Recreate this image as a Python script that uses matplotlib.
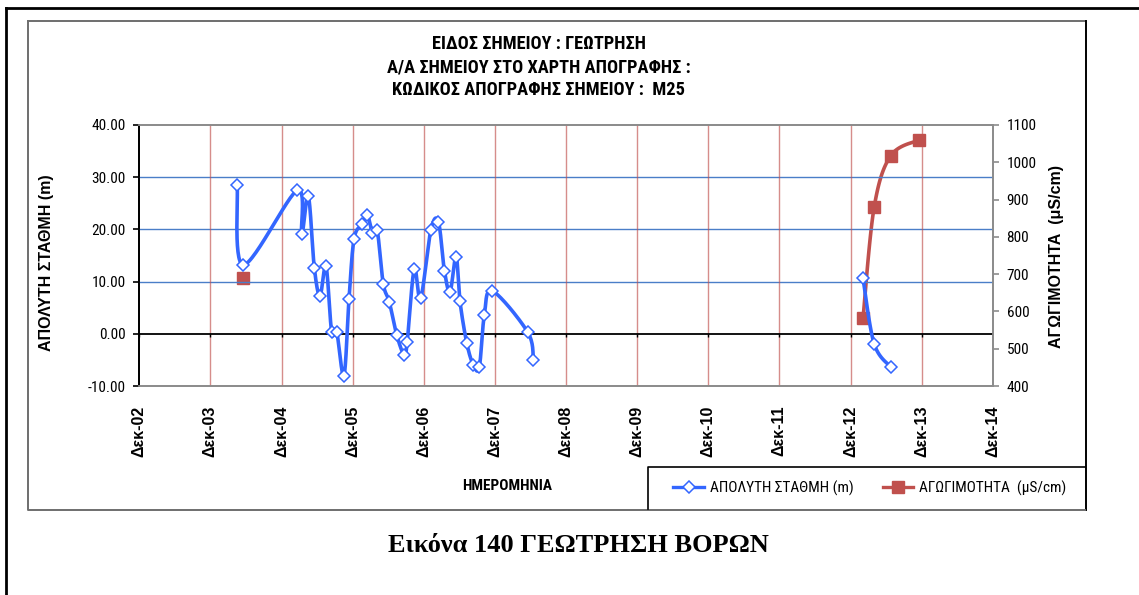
import matplotlib
matplotlib.use("Agg")
import matplotlib.pyplot as plt
import matplotlib.dates as mdates
from matplotlib import font_manager
from matplotlib.lines import Line2D
import numpy as np
import pandas as pd

# ---------------- data ----------------
LEVEL_DATES = [
    "2004-04-17", "2004-05-18", "2005-02-19", "2005-03-14", "2005-04-17",
    "2005-05-18", "2005-06-16", "2005-07-17", "2005-08-15", "2005-09-10",
    "2005-10-17", "2005-11-12", "2005-12-08", "2006-01-19", "2006-02-14",
    "2006-03-12", "2006-04-06", "2006-05-07", "2006-06-07", "2006-07-15",
    "2006-08-23", "2006-09-07", "2006-10-13", "2006-11-15", "2007-01-06",
    "2007-02-14", "2007-03-17", "2007-04-15", "2007-05-16", "2007-06-05",
    "2007-07-10", "2007-08-12", "2007-09-12", "2007-10-08", "2007-11-18",
    "2008-05-18", "2008-06-16",
    "2013-02-03", "2013-04-01", "2013-06-26",
]
LEVEL_VALUES = [
    28.6, 13.2, 27.5, 19.1, 26.4,
    12.6, 7.3, 12.9, 0.3, 0.3,
    -8.0, 6.6, 18.2, 21.0, 22.8,
    19.4, 19.8, 9.6, 6.1, -0.2,
    -4.1, -1.5, 12.4, 6.8, 19.8,
    21.5, 12.1, 8.1, 14.8, 6.2,
    -1.8, -5.9, -6.4, 3.6, 8.2,
    0.3, -5.1,
    10.6, -1.9, -6.4,
]
COND_DATES = ["2004-05-18", "2013-02-03", "2013-04-01", "2013-06-26", "2013-11-20"]
COND_VALUES = [689, 582, 879, 1018, 1060]

TICK_DATES = ["2002-12-01", "2003-12-01", "2004-12-01", "2005-12-01", "2006-12-01",
              "2007-12-01", "2008-12-01", "2009-12-01", "2010-12-01", "2011-12-01",
              "2012-12-01", "2013-12-01", "2014-12-01"]
TICK_LABELS = ["Δεκ-02", "Δεκ-03", "Δεκ-04", "Δεκ-05", "Δεκ-06", "Δεκ-07", "Δεκ-08",
               "Δεκ-09", "Δεκ-10", "Δεκ-11", "Δεκ-12", "Δεκ-13", "Δεκ-14"]
LEFT_TICKS = [-10, 0, 10, 20, 30, 40]
RIGHT_TICKS = [400, 500, 600, 700, 800, 900, 1000, 1100]

TITLE_LINES = ["ΕΙΔΟΣ ΣΗΜΕΙΟΥ : ΓΕΩΤΡΗΣΗ",
               "Α/Α ΣΗΜΕΙΟΥ ΣΤΟ ΧΑΡΤΗ ΑΠΟΓΡΑΦΗΣ :",
               "ΚΩΔΙΚΟΣ ΑΠΟΓΡΑΦΗΣ ΣΗΜΕΙΟΥ :  Μ25"]
LEVEL_NAME = "ΑΠΟΛΥΤΗ ΣΤΑΘΜΗ (m)"
COND_NAME = "ΑΓΩΓΙΜΟΤΗΤΑ  (μS/cm)"
XLABEL = "ΗΜΕΡΟΜΗΝΙΑ"
CAPTION = "Εικόνα 140 ΓΕΩΤΡΗΣΗ ΒΟΡΩΝ"

# ---------------- fonts ----------------
_entries = font_manager.fontManager.ttflist
_names = {f.name for f in _entries}
NARROW_NAME, NARROW_STRETCH, HAVE_NARROW = "Liberation Sans", "normal", False
for nm in ["Liberation Sans Narrow", "Arial Narrow", "Roboto Condensed", "Open Sans Condensed"]:
    if nm in _names:
        NARROW_NAME, NARROW_STRETCH, HAVE_NARROW = nm, "normal", True
        break
else:
    for nm in ["Roboto", "DejaVu Sans", "Noto Sans", "Open Sans"]:
        if any(f.name == nm and str(f.stretch) in ("condensed", "semi-condensed", "extra-condensed")
               for f in _entries):
            NARROW_NAME, NARROW_STRETCH, HAVE_NARROW = nm, "condensed", True
            break

NARROW = [NARROW_NAME, "Liberation Sans", "DejaVu Sans"]
SANS = ["Liberation Sans", "DejaVu Sans"]
SERIF = ["Liberation Serif", "DejaVu Serif"]
NK = dict(fontfamily=NARROW, fontstretch=NARROW_STRETCH)
SZ = 1.0 if HAVE_NARROW else 0.9

BLUE = "#3366FF"
RED = "#C0504D"

W, H = 1139, 595
fig = plt.figure(figsize=(W / 100, H / 100), dpi=100)


def fx(px):
    return px / W


def fy(py):
    return 1 - py / H


# outer page frame (top + left)
fig.add_artist(Line2D([fx(6), fx(W + 5)], [fy(7.5), fy(7.5)], color="black", lw=2.0))
fig.add_artist(Line2D([fx(6), fx(6)], [fy(7.5), fy(H + 5)], color="black", lw=2.0))
# chart area border
fig.add_artist(Line2D([fx(28), fx(1085)], [fy(21), fy(21)], color="#6E6E6E", lw=1.4))
fig.add_artist(Line2D([fx(1085.5), fx(1085.5)], [fy(21), fy(510)], color="black", lw=1.4))
fig.add_artist(Line2D([fx(28), fx(28), fx(1085)], [fy(21), fy(510), fy(510)], color="#6E6E6E", lw=1.4))

# axes
x0, x1 = 139.3, 992.7
y0, y1 = 125, 386
ax = fig.add_axes([fx(x0), fy(y1), fx(x1) - fx(x0), fy(y0) - fy(y1)])
ax2 = ax.twinx()

tick_nums = mdates.date2num(pd.to_datetime(TICK_DATES))
ax.set_xlim(tick_nums[0], tick_nums[-1])
ax.set_ylim(LEFT_TICKS[0], LEFT_TICKS[-1])
ax2.set_ylim(RIGHT_TICKS[0], RIGHT_TICKS[-1])

# grid
for v in LEFT_TICKS[2:-1]:
    ax.axhline(v, color="#4A7EC8", lw=1.0, zorder=1)
for t in tick_nums[1:-1]:
    ax.axvline(t, color=RED, lw=1.0, alpha=0.65, zorder=1)
ax.axhline(0, color="black", lw=1.3, zorder=2)
ax.vlines(tick_nums, -0.7, 0, color="black", lw=1.0, zorder=2)


def smooth_segments(xs, ys, max_gap=700):
    """Split at large gaps and build Catmull-Rom (Excel-style) smoothed curves."""
    xs = np.asarray(xs, float)
    ys = np.asarray(ys, float)
    breaks = np.where(np.diff(xs) > max_gap)[0] + 1
    out = []
    for sx, sy in zip(np.split(xs, breaks), np.split(ys, breaks)):
        if len(sx) < 2:
            continue
        P = np.column_stack([sx, sy])
        Pp = np.vstack([P[0], P, P[-1]])
        pts = []
        t = np.linspace(0, 1, 30)[:, None]
        for i in range(len(P) - 1):
            p0, p1, p2, p3 = Pp[i], Pp[i + 1], Pp[i + 2], Pp[i + 3]
            c1 = p1 + (p2 - p0) / 6.0
            c2 = p2 - (p3 - p1) / 6.0
            b = ((1 - t) ** 3) * p1 + 3 * ((1 - t) ** 2) * t * c1 + 3 * (1 - t) * t ** 2 * c2 + t ** 3 * p2
            pts.append(b)
        pts = np.vstack(pts)
        out.append((pts[:, 0], pts[:, 1]))
    return out


lx = mdates.date2num(pd.to_datetime(LEVEL_DATES))
cx = mdates.date2num(pd.to_datetime(COND_DATES))

for sx, sy in smooth_segments(cx, COND_VALUES):
    ax2.plot(sx, sy, color=RED, lw=2.6, zorder=3, solid_capstyle="round")
ax2.plot(cx, COND_VALUES, ls="none", marker="s", ms=8.5, color=RED, mec=RED, zorder=4)

for sx, sy in smooth_segments(lx, LEVEL_VALUES):
    ax.plot(sx, sy, color=BLUE, lw=2.6, zorder=5, solid_capstyle="round")
ax.plot(lx, LEVEL_VALUES, ls="none", marker="D", ms=6.2, mfc="white", mec=BLUE, mew=1.1, zorder=6)

ax.set_zorder(ax2.get_zorder() + 1)
ax.patch.set_visible(False)

# spines
for a in (ax, ax2):
    a.spines["top"].set_color("#8C8C8C")
    a.spines["bottom"].set_color("#8C8C8C")
    a.spines["right"].set_color("#8C8C8C")
    a.spines["left"].set_color("black")
    for s in a.spines.values():
        s.set_linewidth(1.3)

# ticks
ax.set_xticks(tick_nums)
ax.set_xticklabels(TICK_LABELS, rotation=90, fontfamily=SANS, fontweight="bold", fontsize=11.5, va="top")
ax.tick_params(axis="x", length=0, pad=14)
ax.set_yticks(LEFT_TICKS)
ax.set_yticklabels([f"{v:.2f}" for v in LEFT_TICKS], fontsize=11 * SZ, **NK)
ax.tick_params(axis="y", length=4, width=1.2, direction="out", pad=6, color="black")
ax2.set_yticks(RIGHT_TICKS)
ax2.set_yticklabels([str(v) for v in RIGHT_TICKS], fontsize=11 * SZ, **NK)
ax2.tick_params(axis="y", length=4, width=1.2, direction="out", pad=6, color="#8C8C8C")

# texts
for i, line in enumerate(TITLE_LINES):
    fig.text(fx(539), fy(44 + 23 * i), line, ha="center", va="center",
             fontweight="bold", fontsize=13.2 * SZ, **NK)
fig.text(fx(47), fy(263), LEVEL_NAME, rotation=90, ha="center", va="center", fontfamily=SANS,
         fontweight="bold", fontsize=11.5)
fig.text(fx(1057), fy(256), COND_NAME, rotation=90, ha="center", va="center", fontfamily=SANS,
         fontweight="bold", fontsize=11.5)
fig.text(fx(507), fy(486), XLABEL, ha="center", va="center", fontweight="bold",
         fontsize=11 * SZ, **NK)
fig.text(fx(578), fy(545), CAPTION, ha="center", va="center", fontfamily=SERIF, fontweight="bold", fontsize=19)

# legend
handles = [
    Line2D([], [], color=BLUE, lw=2.4, marker="D", ms=6, mfc="white", mec=BLUE, mew=1.1),
    Line2D([], [], color=RED, lw=2.4, marker="s", ms=8, mfc=RED, mec=RED),
]
leg = fig.legend(handles, [LEVEL_NAME, COND_NAME], loc="center",
                 bbox_to_anchor=(fx(870), fy(488)),
                 ncol=2, frameon=False,
                 prop={"family": NARROW, "stretch": NARROW_STRETCH, "size": 11 * SZ},
                 handlelength=2.0, handletextpad=0.4, columnspacing=1.9, numpoints=1,
                 borderaxespad=0)
# legend box (fixed, as in the reference)
fig.add_artist(Line2D([fx(647.5), fx(647.5), fx(1085)], [fy(509), fy(467), fy(467)],
                      color="black", lw=1.2))

fig.savefig("out.png", dpi=100)
